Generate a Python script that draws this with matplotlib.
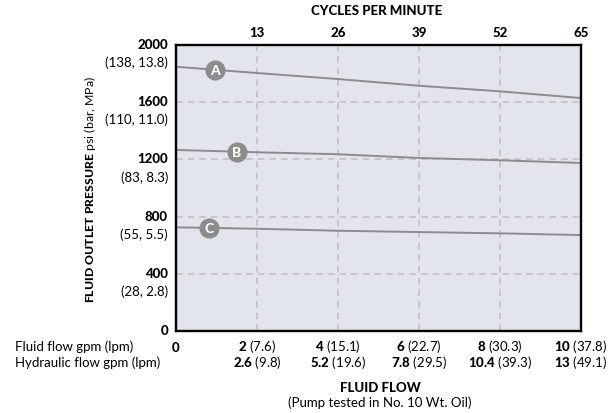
import matplotlib
matplotlib.use("Agg")
import matplotlib.pyplot as plt
import numpy as np

plt.rcParams['font.family'] = ['Lato', 'DejaVu Sans']
plt.rcParams['mathtext.fontset'] = 'custom'
plt.rcParams['mathtext.rm'] = 'Lato'
plt.rcParams['mathtext.bf'] = 'Lato:black'
plt.rcParams['mathtext.it'] = 'Lato:italic'

# Data
flow_gpm = [0, 2, 4, 6, 8, 10]
pressure_A = [1848, 1804, 1762, 1715, 1676, 1629]
pressure_B = [1266, 1250, 1236, 1210, 1194, 1175]
pressure_C = [725, 715, 701, 692, 683, 671]
curve_names = ["A", "B", "C"]
label_pos = [0.96, 1.5, 0.81]

cycles_ticks = [2, 4, 6, 8, 10]
cycles_labels = ["13", "26", "39", "52", "65"]

psi_ticks = [0, 400, 800, 1200, 1600, 2000]
psi_bold = ["0", "400", "800", "1200", "1600", "2000"]
psi_metric = ["", "(28, 2.8)", "(55, 5.5)", "(83, 8.3)", "(110, 11.0)", "(138, 13.8)"]

fluid_bold = ["0", "2", "4", "6", "8", "10"]
fluid_lpm = ["", "(7.6)", "(15.1)", "(22.7)", "(30.3)", "(37.8)"]
hyd_bold = ["", "2.6", "5.2", "7.8", "10.4", "13"]
hyd_lpm = ["", "(9.8)", "(19.6)", "(29.5)", "(39.3)", "(49.1)"]

W, H = 613, 414
FS = 9.5
BW = 'black'
fig = plt.figure(figsize=(W / 100, H / 100), dpi=100)
ax = fig.add_axes([176 / W, (H - 332) / H, (581 - 176) / W, (332 - 46) / H])
ax.set_facecolor('#e3e5ec')
ax.set_xlim(0, 10)
ax.set_ylim(0, 2000)

for x in cycles_ticks[:-1]:
    ax.axvline(x, color='#c2c2c2', lw=1.2, ls=(0, (4, 3)), zorder=1)
for y in psi_ticks[1:-1]:
    ax.axhline(y, color='#c2c2c2', lw=1.2, ls=(0, (4, 3)), zorder=1)

line_color = '#8c8c8c'
for series, name, lp in zip([pressure_A, pressure_B, pressure_C], curve_names, label_pos):
    ax.plot(flow_gpm, series, color=line_color, lw=1.4, zorder=2)
    yv = float(np.interp(lp, flow_gpm, series))
    ax.plot([lp], [yv], 'o', ms=13.5, color=line_color, mec=line_color, zorder=3)
    ax.text(lp, yv, name, color='white', fontsize=10, fontweight=BW,
            ha='center', va='center', zorder=4)

for s in ax.spines.values():
    s.set_linewidth(1.7)
    s.set_color('black')
ax.set_xticks([])
ax.set_yticks([])

# Top axis labels
for x, lab in zip(cycles_ticks, cycles_labels):
    ax.annotate(lab, xy=(x, 1), xycoords=('data', 'axes fraction'),
                xytext=(0, 13), textcoords='offset pixels',
                ha='center', va='center', fontsize=FS, fontweight=BW)
fig.text(377 / W, 1 - 11 / H, "CYCLES PER MINUTE", ha='center', va='center',
         fontsize=FS, fontweight=BW)

# Y tick labels
for y, b, m in zip(psi_ticks, psi_bold, psi_metric):
    ax.annotate(b, xy=(0, y), xycoords=('axes fraction', 'data'),
                xytext=(-8, 1), textcoords='offset pixels',
                ha='right', va='center', fontsize=FS, fontweight=BW)
    if m:
        ax.annotate(m, xy=(0, y), xycoords=('axes fraction', 'data'),
                    xytext=(-8, -17), textcoords='offset pixels',
                    ha='right', va='center', fontsize=FS)

# Y axis label
fig.text(90 / W, (H - 189) / H,
         r"$\mathbf{FLUID\ OUTLET\ PRESSURE}$ psi (bar, MPa)",
         rotation=90, ha='center', va='center', fontsize=8.8)

# Bottom tick labels
for x, b, m in zip(flow_gpm, fluid_bold, fluid_lpm):
    txt = r"$\mathbf{%s}$ %s" % (b, m) if m else r"$\mathbf{%s}$" % b
    ax.annotate(txt, xy=(x, 0), xycoords=('data', 'axes fraction'),
                xytext=(0, -15), textcoords='offset pixels',
                ha='center', va='center', fontsize=FS)
for x, b, m in zip(flow_gpm, hyd_bold, hyd_lpm):
    if not b:
        continue
    txt = r"$\mathbf{%s}$ %s" % (b, m)
    ax.annotate(txt, xy=(x, 0), xycoords=('data', 'axes fraction'),
                xytext=(0, -31), textcoords='offset pixels',
                ha='center', va='center', fontsize=FS)

fig.text(15 / W, 1 - 347 / H, "Fluid flow gpm (lpm)", ha='left', va='center', fontsize=FS)
fig.text(15 / W, 1 - 363 / H, "Hydraulic flow gpm (lpm)", ha='left', va='center', fontsize=FS)

fig.text(380 / W, 1 - 388 / H, "FLUID FLOW", ha='center', va='center',
         fontsize=FS, fontweight=BW)
fig.text(380 / W, 1 - 403 / H, "(Pump tested in No. 10 Wt. Oil)", ha='center',
         va='center', fontsize=FS)

fig.savefig("out.png", dpi=100, facecolor='white')
